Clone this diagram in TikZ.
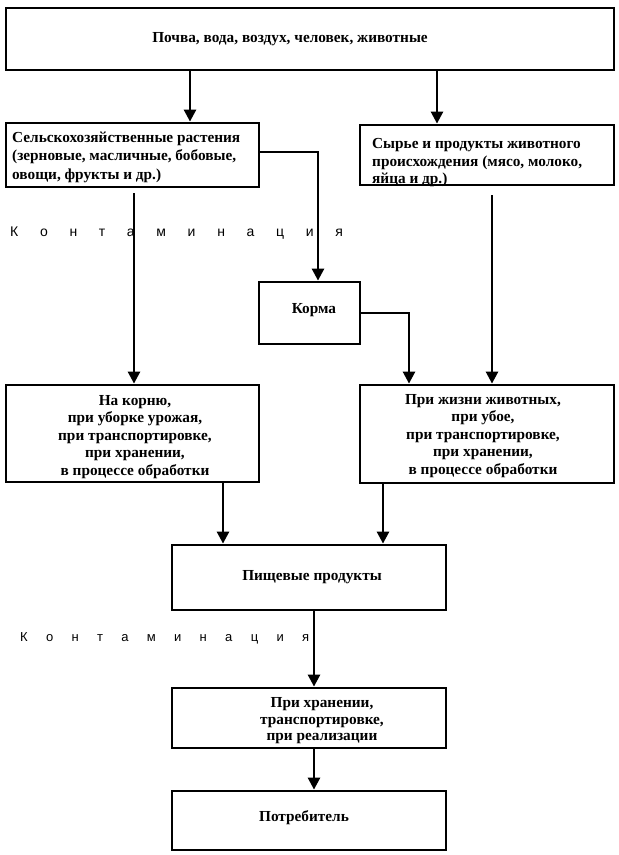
\documentclass[tikz,border=0pt]{standalone}
\usepackage{fontspec}
\setmainfont{Liberation Serif}
\newfontfamily\kfont{Liberation Sans}
\usetikzlibrary{arrows.meta,calc}
\tikzset{
  box/.style={draw=black, line width=2.8pt, inner sep=0pt, fill=none},
  lbl/.style={font=\fontsize{15.3}{17.5}\selectfont\bfseries, inner sep=0pt},
  arr/.style={line width=2.6pt, -{Triangle[width=12pt,length=12pt]}},
  kont/.style={inner sep=0pt, anchor=west}
}
\begin{document}
\begin{tikzpicture}[x=1pt,y=-1pt]
\useasboundingbox (0,0) rectangle (619,855);
% boxes
\node[box, minimum width=608pt, minimum height=62pt] (top) at (310,39) {};
\node[box, minimum width=253pt, minimum height=64pt] (sel) at (132.5,155) {};
\node[box, minimum width=254pt, minimum height=60pt] (syr) at (487,155) {};
\node[box, minimum width=101pt, minimum height=62pt] (korma) at (309.5,313) {};
\node[box, minimum width=253pt, minimum height=97pt] (nak) at (132.5,433.5) {};
\node[box, minimum width=254pt, minimum height=98pt] (prj) at (487,434) {};
\node[box, minimum width=274pt, minimum height=65pt] (pish) at (309,577.5) {};
\node[box, minimum width=274pt, minimum height=60pt] (prh) at (309,718) {};
\node[box, minimum width=274pt, minimum height=59pt] (potr) at (309,820.5) {};
% texts
\node[lbl] (topt) at (290,39) {Почва, вода, воздух, человек, животные};
\node[lbl, align=left, anchor=west, font=\fontsize{15.3}{18.5}\selectfont\bfseries] (selt) at (12,157) {Сельскохозяйственные растения\\(зерновые, масличные, бобовые,\\овощи, фрукты и др.)};
\node[lbl, align=left, anchor=west, font=\fontsize{15.3}{17.5}\selectfont\bfseries] (syrt) at (372,163) {Сырье и продукты животного\\происхождения (мясо, молоко,\\яйца и др.)};
\node[lbl] (kormat) at (314,310) {Корма};
\node[lbl, align=center] (nakt) at (135,437) {На корню,\\при уборке урожая,\\при транспортировке,\\при хранении,\\в процессе обработки};
\node[lbl, align=center] (prjt) at (483,436) {При жизни животных,\\при убое,\\при транспортировке,\\при хранении,\\в процессе обработки};
\node[lbl] (pisht) at (312,577) {Пищевые продукты};
\node[lbl, align=center, font=\fontsize{15.3}{16.5}\selectfont\bfseries] (prht) at (322,721) {При хранении,\\транспортировке,\\при реализации};
\node[lbl] (potrt) at (304,818) {Потребитель};
% x positions of connectors
\coordinate (x1) at (190,0);
\coordinate (x2) at (437,0);
\coordinate (x3) at (318,152);
\coordinate (x4) at (134,0);
\coordinate (x5) at (409,0);
\coordinate (x6) at (492,0);
\coordinate (x7) at (223,0);
\coordinate (x8) at (383,0);
\coordinate (x9) at (314,0);
% contamination labels
\node[kont, font=\kfont\fontsize{14}{16}\selectfont\addfontfeatures{LetterSpace=155}] (k1) at (10,233) {Контаминация};
\node[kont, font=\kfont\fontsize{13}{15}\selectfont\addfontfeatures{LetterSpace=141}] (k2) at (20,638) {Контаминация};
% connectors
\draw[arr] (x1 |- top.south) -- (x1 |- sel.north);
\draw[arr] (x2 |- top.south) -- (x2 |- syr.north);
\draw[arr] (sel.east |- x3) -| (x3 |- korma.north);
\draw[arr, shorten <=5pt] (x4 |- sel.south) -- (x4 |- nak.north);
\draw[arr] (korma.east) -| (x5 |- prj.north);
\draw[arr, shorten <=9pt] (x6 |- syr.south) -- (x6 |- prj.north);
\draw[arr] (x7 |- nak.south) -- (x7 |- pish.north);
\draw[arr] (x8 |- prj.south) -- (x8 |- pish.north);
\draw[arr] (x9 |- pish.south) -- (x9 |- prh.north);
\draw[arr] (x9 |- prh.south) -- (x9 |- potr.north);
\end{tikzpicture}
\end{document}
